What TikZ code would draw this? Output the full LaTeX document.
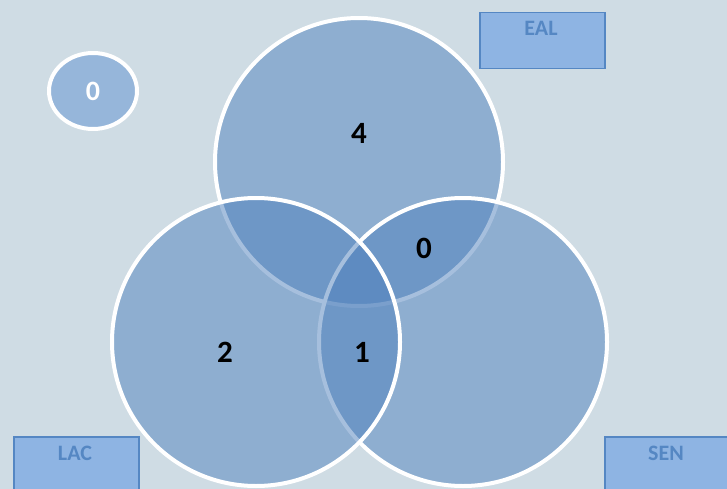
\documentclass[tikz,border=0pt]{standalone}
\usepackage{fontspec}
\setmainfont{Carlito}[BoldFont={Carlito Bold}]
\usetikzlibrary{shapes.geometric}
\definecolor{bgc}{RGB}{207,220,228}
\definecolor{vennc}{RGB}{79,129,189}
\definecolor{boxfill}{RGB}{142,180,227}
\definecolor{boxline}{RGB}{85,135,195}
\definecolor{ellfill}{RGB}{150,182,218}
\begin{document}
\begin{tikzpicture}[x=1pt,y=-1pt,
  venn/.style={circle, minimum size=288pt, inner sep=0pt, fill=vennc, fill opacity=0.5, draw=white, draw opacity=1, line width=4pt},
  lab/.style={inner sep=0pt, font=\fontsize{22}{22}\selectfont\bfseries, text=boxline},
  setbox/.style={draw=boxline, line width=1.5pt, fill=boxfill, minimum width=125pt, minimum height=56pt, anchor=north west, inner sep=0pt},
  num/.style={inner sep=0pt, font=\fontsize{31}{31}\selectfont\bfseries, text=black}]
\useasboundingbox (0,0) rectangle (727,489);
\fill[bgc] (0,0) rectangle (727,489);
% boxes
\node[setbox] (eal) at (479,12) {};
\node[lab] (ealt) at (541,28) {EAL};
\node[setbox] (lac) at (13,436) {};
\node[lab] (lact) at (75,453) {LAC};
\node[setbox] (sen) at (604,436) {};
\node[lab] (sent) at (666,453) {SEN};
% ellipse
\node[ellipse, minimum width=88pt, minimum height=76pt, fill=ellfill, draw=white, line width=4pt, inner sep=0pt, font=\fontsize{28}{28}\selectfont\bfseries, text=white] (none) at (93,91) {0};
% circles
\node[venn] (top) at (359,162) {};
\node[venn] (right) at (463,342) {};
\node[venn] (left) at (256,342) {};
% numbers
\node[num] (n4) at (359,133) {4};
\node[num] (n0) at (424,248) {0};
\node[num] (n2) at (225,352) {2};
\node[num] (n1) at (362,352) {1};
\end{tikzpicture}
\end{document}
